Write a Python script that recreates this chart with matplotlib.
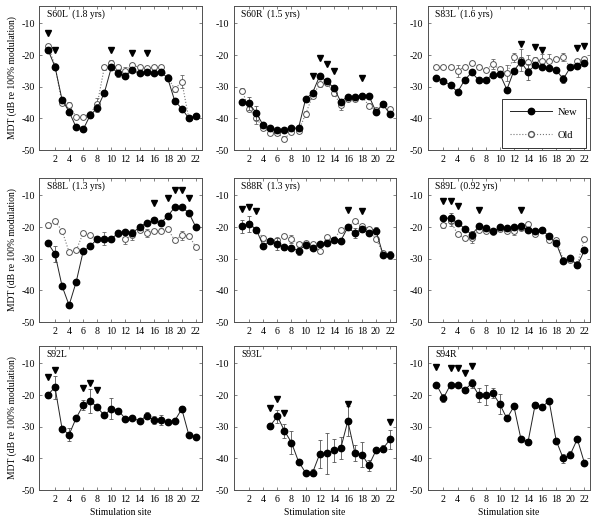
import matplotlib
matplotlib.use("Agg")
import matplotlib.pyplot as plt
from matplotlib.lines import Line2D

plt.rcParams['font.family'] = ['Liberation Serif', 'DejaVu Serif']
plt.rcParams['axes.unicode_minus'] = False

# ---------------- data ----------------
sites_full = list(range(1, 23))
sites_s89l = list(range(2, 23))
sites_s93l = list(range(5, 23))

# S60L
s60l_new = [-18.3, -23.7, -34.1, -37.9, -42.8, -43.5, -39.0, -36.8, -32.0, -23.9, -25.8, -26.6,
            -24.8, -25.8, -25.2, -25.8, -25.2, -27.3, -34.5, -36.9, -40.0, -39.3]
s60l_new_err = [0.5, 0.6, 0.5, 1.0, 0.4, 0.5, 0.8, 1.2, 0.5, 0.6, 1.0, 0.8, 0.6, 0.4, 0.5, 0.5,
                0.6, 0.6, 0.5, 0.4, 0.5, 0.8]
s60l_old = [-17.0, -23.4, -35.2, -35.7, -39.6, -39.6, -38.5, -35.5, -23.9, -22.4, -23.9, -25.0,
            -23.2, -23.9, -24.2, -23.9, -23.7, -27.0, -30.8, -28.4, -40.0, -39.3]
s60l_old_err = [0.6, 0.5, 0.5, 0.8, 0.3, 0.3, 0.5, 2.0, 0.8, 0.7, 0.5, 1.2, 0.8, 0.5, 0.5, 0.6,
                0.5, 0.8, 0.8, 2.0, 0.4, 0.4]
s60l_tri_x = [1, 2, 10, 13, 15]
s60l_tri_y = [-12.9, -18.4, -18.4, -19.4, -19.4]

# S60R
s60r_new = [-34.7, -35.3, -38.3, -42.2, -43.2, -43.8, -43.7, -43.1, -43.1, -34.0, -31.9, -26.6,
            -28.3, -30.3, -34.7, -33.1, -33.1, -32.9, -32.9, -37.9, -35.6, -38.7]
s60r_new_err = [0.6, 2.0, 2.3, 0.5, 0.5, 0.5, 0.5, 0.5, 0.5, 0.8, 0.6, 0.6, 0.6, 0.8, 0.8, 0.6,
                0.6, 1.0, 0.5, 0.6, 0.6, 0.5]
s60r_old = [-31.3, -37.1, -39.9, -43.0, -44.5, -44.7, -46.4, -44.3, -44.0, -38.7, -32.9, -29.2,
            -28.8, -32.0, -35.8, -34.0, -34.0, -33.0, -36.0, -37.5, -35.5, -37.0]
s60r_old_err = [0.8, 0.6, 2.0, 0.6, 0.6, 0.6, 0.8, 0.6, 0.6, 1.0, 0.6, 0.8, 0.6, 0.8, 1.5, 0.6,
                0.6, 0.6, 0.8, 0.6, 0.8, 0.6]
s60r_tri_x = [11, 12, 13, 14, 18]
s60r_tri_y = [-26.7, -21.0, -22.9, -25.0, -27.2]

# S83L
s83l_new = [-27.3, -28.2, -29.5, -31.7, -27.9, -25.5, -27.9, -27.8, -26.2, -26.0, -30.9, -24.9,
            -22.1, -25.4, -23.1, -23.9, -24.2, -24.7, -27.6, -23.9, -23.4, -22.6]
s83l_new_err = [0.5, 0.5, 0.8, 0.5, 0.5, 0.5, 1.0, 0.5, 1.2, 0.5, 0.8, 0.6, 1.5, 2.5, 0.8, 0.6,
                0.5, 0.5, 1.3, 0.5, 0.6, 0.8]
s83l_old = [-23.9, -23.9, -23.7, -25.0, -23.7, -22.5, -23.7, -24.8, -22.9, -24.5, -25.8, -20.7,
            -21.6, -22.1, -21.5, -21.8, -21.8, -21.3, -20.7, -23.9, -21.8, -21.3]
s83l_old_err = [0.5, 0.5, 0.5, 2.0, 0.5, 0.5, 0.6, 0.5, 1.5, 0.6, 2.5, 1.5, 3.5, 2.0, 0.8, 2.2,
                2.0, 0.6, 1.3, 0.6, 0.6, 0.6]
s83l_tri_x = [13, 15, 16, 21, 22]
s83l_tri_y = [-16.4, -17.5, -18.4, -17.8, -17.2]

# S88L
s88l_new = [-25.1, -28.5, -38.6, -44.7, -37.4, -27.7, -26.1, -23.7, -23.7, -23.7, -21.9, -21.7,
            -21.9, -20.0, -18.7, -17.9, -18.7, -16.6, -13.7, -13.7, -15.5, -20.0]
s88l_new_err = [0.5, 2.5, 0.5, 0.5, 0.5, 0.5, 0.5, 0.5, 0.5, 0.5, 0.5, 0.6, 0.6, 0.5, 0.5, 0.5,
                0.5, 1.0, 0.6, 0.5, 0.5, 0.5]
s88l_old = [-19.5, -18.2, -21.1, -27.9, -27.4, -21.9, -22.4, -23.7, -23.7, -23.7, -22.2, -23.8,
            -22.4, -20.8, -21.9, -21.1, -21.1, -20.6, -24.2, -22.6, -22.7, -26.3]
s88l_old_err = [0.8, 0.5, 0.5, 0.5, 0.5, 0.5, 0.5, 0.5, 2.0, 0.5, 0.5, 1.5, 1.8, 0.5, 1.3, 0.5,
                0.8, 0.5, 0.6, 1.5, 0.5, 0.5]
s88l_tri_x = [16, 18, 19, 20, 21]
s88l_tri_y = [-12.5, -10.9, -8.4, -8.4, -10.7]

# S88R
s88r_new = [-19.8, -19.0, -20.8, -25.9, -24.5, -25.4, -26.4, -26.6, -27.5, -25.6, -26.6, -25.4,
            -25.1, -24.0, -24.3, -20.1, -21.9, -20.6, -21.9, -21.1, -28.7, -28.9]
s88r_new_err = [2.0, 2.5, 0.8, 0.5, 0.5, 2.0, 0.8, 0.5, 1.3, 0.5, 0.6, 0.5, 0.5, 0.5, 0.8, 0.5,
                1.5, 1.0, 0.5, 1.0, 0.5, 1.3]
s88r_old = [-19.8, -19.0, -20.8, -23.5, -24.5, -24.0, -22.7, -23.7, -25.3, -24.9, -25.4, -27.7,
            -23.3, -24.0, -20.8, -20.1, -18.2, -19.6, -20.5, -23.8, -28.2, -28.9]
s88r_old_err = [0.5, 0.5, 0.5, 0.8, 0.5, 0.5, 0.6, 1.2, 0.5, 0.5, 0.5, 0.6, 0.5, 0.5, 0.5, 0.5,
                0.5, 0.5, 0.5, 0.6, 0.5, 0.5]
s88r_tri_x = [1, 2, 3, 16, 18]
s88r_tri_y = [-14.3, -13.7, -15.0, -14.5, -15.0]

# S89L (sites 2-22)
s89l_new = [-17.2, -17.2, -18.6, -20.5, -22.4, -19.8, -20.3, -21.4, -20.1, -20.3, -20.0, -19.8,
            -20.8, -21.1, -21.0, -22.9, -25.1, -30.8, -29.8, -32.1, -27.4]
s89l_new_err = [0.5, 1.5, 0.5, 0.5, 1.3, 0.5, 0.5, 0.5, 0.5, 0.5, 0.5, 1.0, 0.5, 0.5, 0.5, 0.5,
                0.6, 0.6, 0.5, 0.8, 0.5]
s89l_old = [-19.5, -18.2, -22.2, -23.5, -23.5, -20.8, -21.1, -21.6, -20.6, -21.1, -21.1, -20.3,
            -19.1, -22.2, -21.0, -24.0, -24.0, -30.3, -30.5, -31.7, -23.7]
s89l_old_err = [0.8, 1.5, 0.5, 0.5, 1.5, 0.5, 0.5, 0.5, 0.5, 0.5, 1.5, 0.5, 0.5, 0.5, 0.5, 0.5,
                0.5, 0.5, 0.5, 0.5, 0.5]
s89l_tri_x = [2, 3, 4, 7, 13]
s89l_tri_y = [-11.8, -11.8, -13.2, -14.5, -14.5]

# S92L
s92l_new = [-19.9, -17.5, -30.6, -32.5, -27.3, -23.2, -21.8, -23.9, -26.4, -24.3, -24.9, -27.5,
            -27.1, -28.3, -26.5, -27.9, -27.9, -28.6, -28.1, -24.4, -32.6, -33.2]
s92l_new_err = [1.0, 3.6, 0.6, 2.0, 0.6, 1.6, 3.8, 0.8, 0.5, 3.4, 0.5, 0.5, 0.5, 0.5, 1.0, 1.3,
                1.5, 0.5, 0.5, 1.0, 0.5, 0.5]
s92l_tri_x = [1, 2, 6, 7, 8]
s92l_tri_y = [-14.4, -12.2, -17.7, -16.2, -18.4]

# S93L (sites 5-22)
s93l_new = [-29.7, -26.7, -31.3, -35.0, -41.0, -44.5, -44.5, -38.7, -38.4, -37.5, -36.8, -28.2,
            -38.2, -38.8, -42.2, -37.5, -36.9, -34.0]
s93l_new_err = [1.0, 2.0, 2.3, 3.6, 0.6, 0.6, 1.0, 4.4, 6.4, 3.6, 3.5, 4.7, 2.5, 4.0, 1.8, 0.5,
                1.0, 3.0]
s93l_tri_x = [5, 6, 7, 16, 22]
s93l_tri_y = [-24.2, -21.1, -25.8, -22.8, -28.6]

# S94R
s94r_new = [-16.7, -20.9, -16.7, -16.7, -18.4, -16.3, -20.0, -20.0, -19.4, -22.9, -27.4, -23.6,
            -33.9, -34.8, -23.2, -23.7, -21.9, -34.4, -40.0, -38.8, -33.9, -41.4]
s94r_new_err = [0.5, 1.2, 0.5, 0.5, 0.6, 1.4, 2.2, 3.2, 1.6, 3.2, 0.6, 0.6, 0.6, 1.0, 1.0, 0.5,
                0.5, 0.6, 1.5, 1.2, 0.5, 0.5]
s94r_tri_x = [1, 3, 4, 5, 6]
s94r_tri_y = [-11.1, -11.5, -11.3, -13.0, -10.7]

panel_titles = ["S60L  (1.8 yrs)", "S60R  (1.5 yrs)", "S83L  (1.6 yrs)",
                "S88L  (1.3 yrs)", "S88R  (1.3 yrs)", "S89L  (0.92 yrs)",
                "S92L", "S93L", "S94R"]
y_ticks = [-50, -40, -30, -20, -10]
x_ticks = [2, 4, 6, 8, 10, 12, 14, 16, 18, 20, 22]
y_label = "MDT (dB re 100% modulation)"
x_label = "Stimulation site"
legend_labels = ["New", "Old"]

panels = [
    (sites_full, s60l_new, s60l_new_err, s60l_old, s60l_old_err, s60l_tri_x, s60l_tri_y),
    (sites_full, s60r_new, s60r_new_err, s60r_old, s60r_old_err, s60r_tri_x, s60r_tri_y),
    (sites_full, s83l_new, s83l_new_err, s83l_old, s83l_old_err, s83l_tri_x, s83l_tri_y),
    (sites_full, s88l_new, s88l_new_err, s88l_old, s88l_old_err, s88l_tri_x, s88l_tri_y),
    (sites_full, s88r_new, s88r_new_err, s88r_old, s88r_old_err, s88r_tri_x, s88r_tri_y),
    (sites_s89l, s89l_new, s89l_new_err, s89l_old, s89l_old_err, s89l_tri_x, s89l_tri_y),
    (sites_full, s92l_new, s92l_new_err, None, None, s92l_tri_x, s92l_tri_y),
    (sites_s93l, s93l_new, s93l_new_err, None, None, s93l_tri_x, s93l_tri_y),
    (sites_full, s94r_new, s94r_new_err, None, None, s94r_tri_x, s94r_tri_y),
]

# ---------------- layout ----------------
W, H = 600, 517
fig = plt.figure(figsize=(W / 100, H / 100), dpi=100)
col_left = [39.5, 233.7, 428.0]
col_w = 162.0
row_top = [6.0, 178.0, 346.0]
row_h = 144.0

frame_col = '#505050'
fs_tick = 7.2
fs_title = 6.9
fs_lab = 6.9

for i, (xs, nv, ne, ov, oe, tx, ty) in enumerate(panels):
    r, c = divmod(i, 3)
    ax = fig.add_axes([col_left[c] / W, 1 - (row_top[r] + row_h) / H, col_w / W, row_h / H])
    if ov is not None:
        ax.errorbar(xs, ov, yerr=oe, fmt='none', ecolor='#666666', elinewidth=0.6,
                    capsize=1.5, capthick=0.6, zorder=2)
        ax.plot(xs, ov, linestyle=':', color='#777777', linewidth=0.8, marker='o',
                markersize=4.2, markerfacecolor='white', markeredgecolor='#555555',
                markeredgewidth=0.7, zorder=3)
    ax.errorbar(xs, nv, yerr=ne, fmt='none', ecolor='#555555', elinewidth=0.6,
                capsize=1.5, capthick=0.6, zorder=4)
    ax.plot(xs, nv, linestyle='-', color='#222222', linewidth=0.7, marker='o',
            markersize=4.6, markerfacecolor='black', markeredgecolor='black', zorder=5)
    ax.plot(tx, ty, linestyle='none', marker='v', markersize=4.2, color='black', zorder=6)

    ax.set_xlim(-0.2, 22.8)
    ax.set_ylim(-50, -4.5)
    ax.set_xticks(x_ticks)
    ax.set_yticks(y_ticks)
    ax.tick_params(direction='in', top=True, right=True, length=2.5, width=0.5,
                   labelsize=fs_tick, color=frame_col, pad=3.5)
    for sp in ax.spines.values():
        sp.set_color(frame_col)
        sp.set_linewidth(0.7)
    ax.text(0.045, 0.94, panel_titles[i], transform=ax.transAxes, fontsize=fs_title,
            ha='left', va='center')
    if c == 0:
        ax.set_ylabel(y_label, fontsize=fs_lab, labelpad=3)
    if r == 2:
        ax.set_xlabel(x_label, fontsize=fs_lab, labelpad=3)
    if i == 2:
        h_new = Line2D([], [], linestyle='-', color='#222222', linewidth=0.7, marker='o',
                       markersize=4.6, markerfacecolor='black', markeredgecolor='black')
        h_old = Line2D([], [], linestyle=':', color='#777777', linewidth=0.8, marker='o',
                       markersize=4.2, markerfacecolor='white', markeredgecolor='#555555')
        leg = ax.legend([h_new, h_old], legend_labels, loc='lower right',
                        bbox_to_anchor=(0.975, 0.014), fontsize=7.5, handlelength=4.0,
                        labelspacing=1.3, borderpad=0.8, fancybox=False, framealpha=1,
                        edgecolor='#333333', handletextpad=0.6, borderaxespad=0)
        leg.get_frame().set_linewidth(0.7)

fig.savefig("out.png", dpi=100)
